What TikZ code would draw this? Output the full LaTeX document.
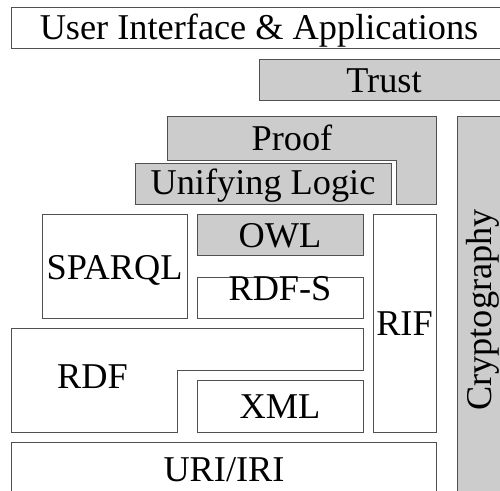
\documentclass[tikz,border=0pt]{standalone}
\usepackage{fontspec}
\setmainfont{Liberation Serif}
\newfontfamily\layerfont{Liberation Serif}
\definecolor{layergray}{HTML}{CCCCCC}
\definecolor{edgegray}{HTML}{505050}
\begin{document}
\begin{tikzpicture}[x=1pt,y=-1pt,
  plain/.style={draw=edgegray,line width=1pt,fill=white},
  shaded/.style={draw=edgegray,line width=1pt,fill=layergray},
  lbl/.style={inner sep=0pt,anchor=base,font=\layerfont\fontsize{36.3}{40}\selectfont}]
\useasboundingbox (0,0) rectangle (500,490);
\fill[white] (0,0) rectangle (500,490);
\clip (0,0) rectangle (500,490);

% top layers
\path[plain]  (11,7) rectangle (508,48);
\path[shaded] (259,59) rectangle (509,100);

% proof / logic
\path[shaded] (167,116) -- (436,116) -- (436,204) -- (396,204) -- (396,160) -- (167,160) -- cycle;
\path[shaded] (135,163) rectangle (391,204);

% cryptography column
\path[shaded] (457,116) rectangle (510,504);

% query, ontology and rules
\path[plain]  (42,214) rectangle (187,318);
\path[shaded] (197,214) rectangle (363,255);
\path[plain]  (197,277) rectangle (363,318);
\path[plain]  (373,214) rectangle (436,432);

% data interchange
\path[plain] (11,328) -- (363,328) -- (363,370) -- (177,370) -- (177,432) -- (11,432) -- cycle;
\path[plain] (197,380) rectangle (363,432);

% identifiers
\path[plain] (11,442) rectangle (436,500);

% labels
\node[lbl] (ui)     at (259,39)  {User Interface \& Applications};
\node[lbl] (trust)  at (384,92)  {Trust};
\node[lbl] (proof)  at (292,150) {Proof};
\node[lbl] (logic)  at (263,194) {Unifying Logic};
\node[lbl] (sparql) at (114.5,279) {SPARQL};
\node[lbl] (owl)    at (280,247) {OWL};
\node[lbl] (rdfs)   at (280,300) {RDF-S};
\node[lbl] (rif)    at (404.5,335) {RIF};
\node[lbl] (rdf)    at (92.5,388) {RDF};
\node[lbl] (xml)    at (280,418) {XML};
\node[lbl] (uri)    at (224,481) {URI/IRI};
\node[lbl,rotate=90] (crypto) at (491,310) {Cryptography};
\end{tikzpicture}
\end{document}
